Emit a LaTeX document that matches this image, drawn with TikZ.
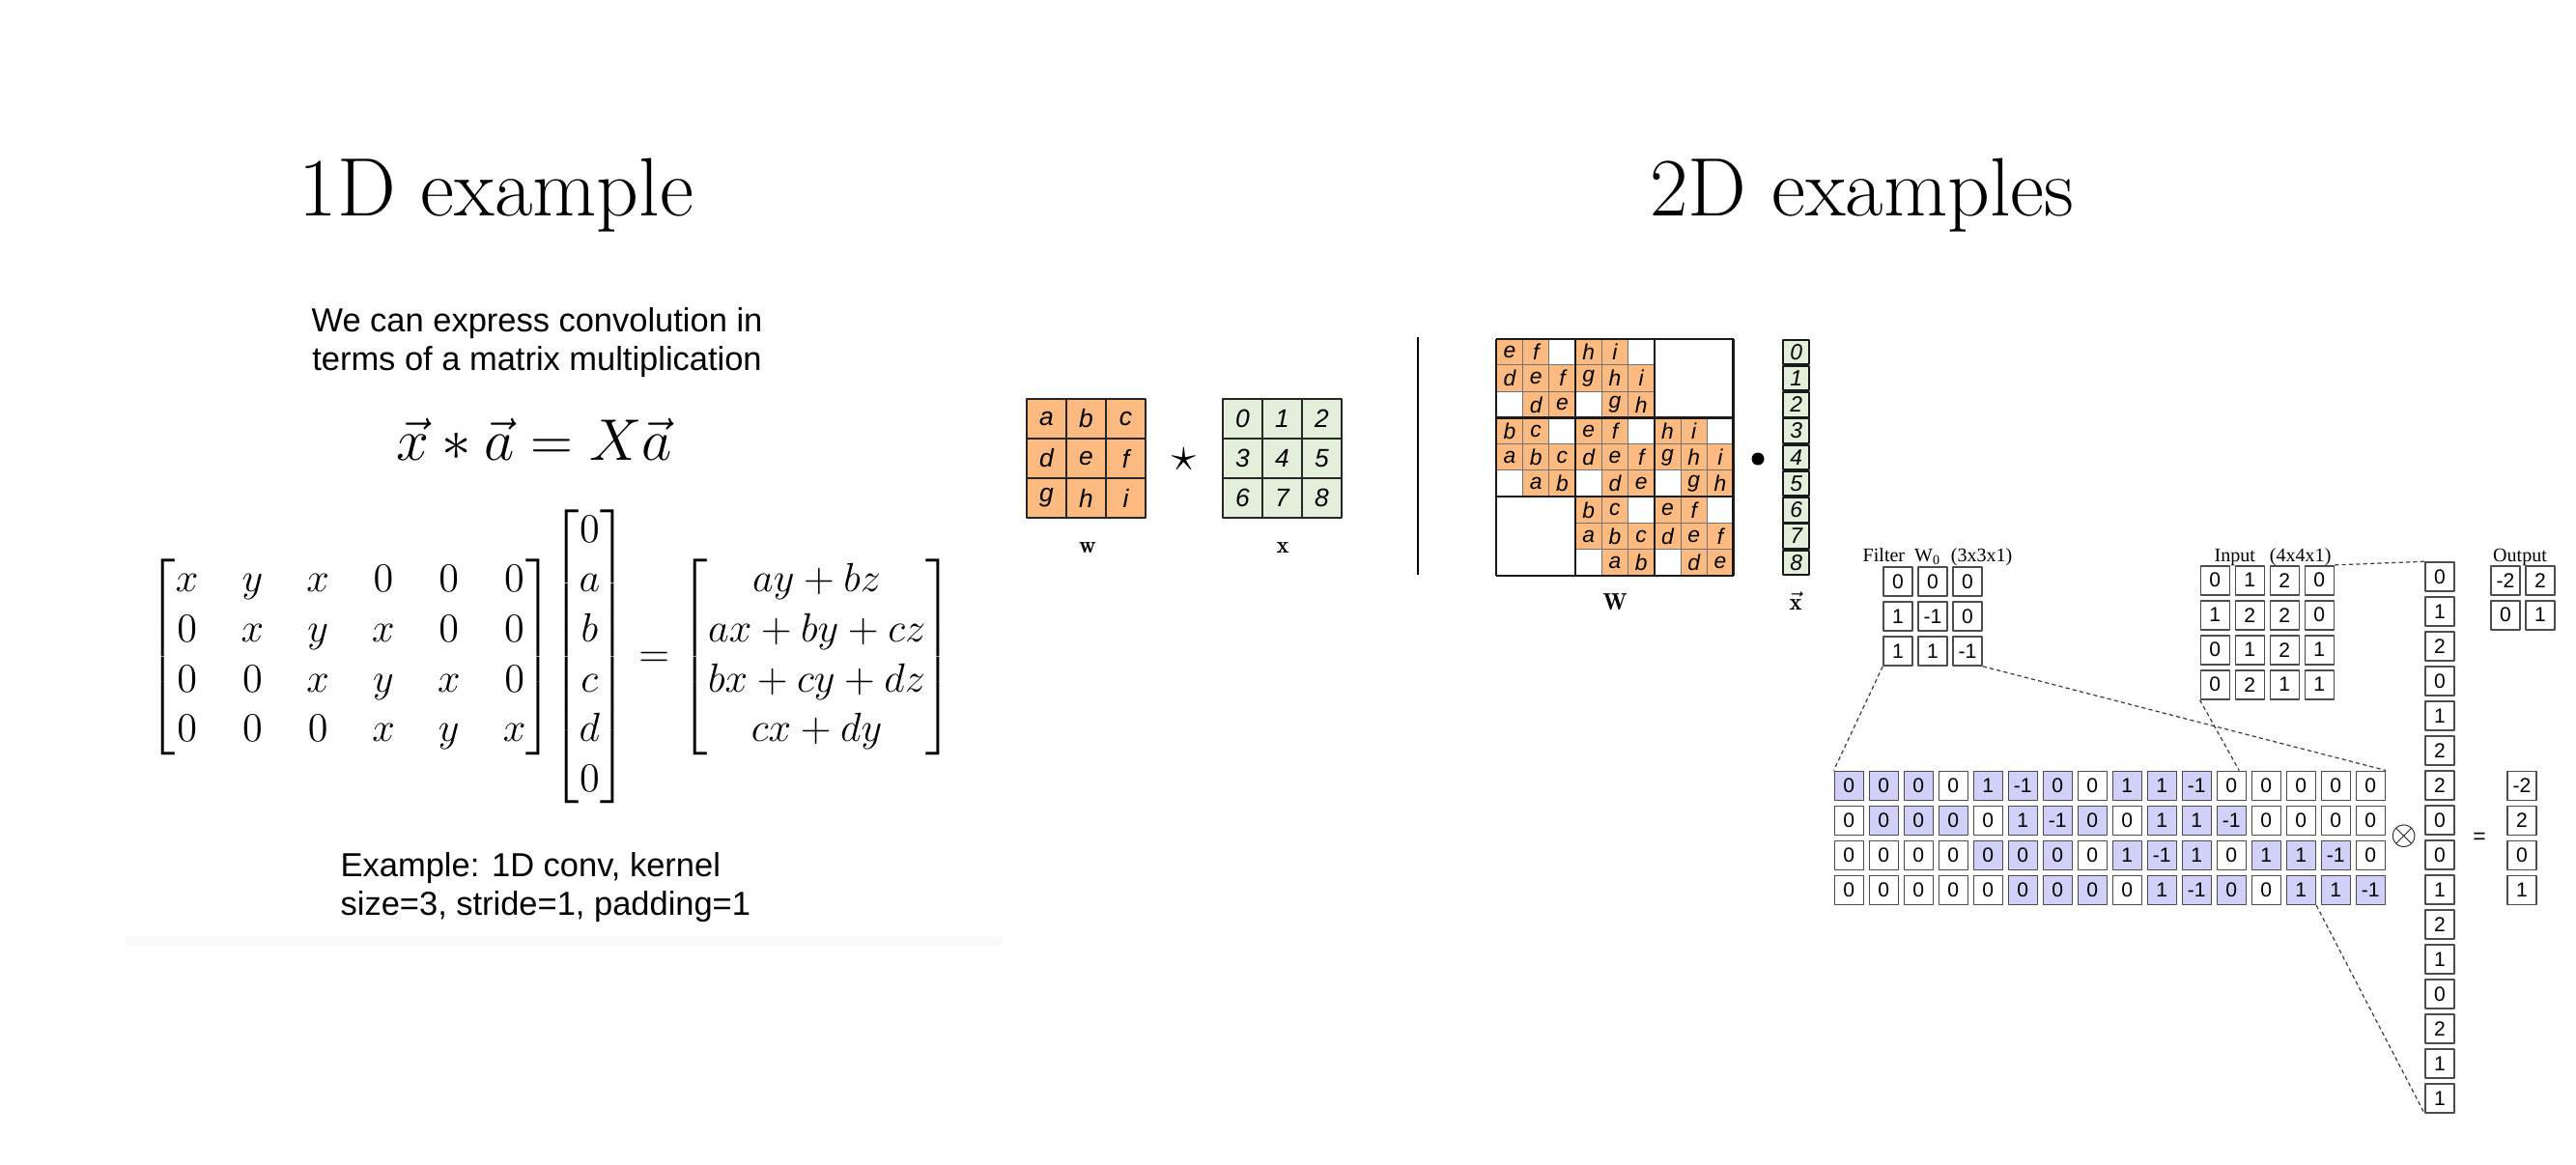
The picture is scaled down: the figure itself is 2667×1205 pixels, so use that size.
\documentclass[tikz,border=0pt]{standalone}
\usepackage{amsmath}
\usepackage{fontspec}
\newfontfamily\arialfont{Liberation Sans}
\newfontfamily\timesfont{Liberation Serif}
\usetikzlibrary{calc}

\definecolor{wfill}{RGB}{252,186,128}
\definecolor{xfill}{RGB}{227,239,219}
\definecolor{lav}{RGB}{208,208,248}

\newcommand\kernltr[1]{\ifcase#1 a\or b\or c\or d\or e\or f\or g\or h\or i\fi}

\tikzset{
  wcell/.style={draw=black!85, line width=0.5pt, fill=wfill, minimum size=0.41cm, inner sep=0pt,
    font=\arialfont\itshape\fontsize{7.5}{9}\selectfont},
  xcell/.style={wcell, fill=xfill},
  Wcell/.style={draw=black!55, line width=0.3pt, fill=wfill, minimum size=0.2725cm, inner sep=0pt,
    font=\arialfont\itshape\fontsize{6.5}{8}\selectfont},
  vcell/.style={draw=black!90, line width=0.55pt, fill=xfill, minimum width=0.27cm, minimum height=0.255cm,
    inner sep=0pt, font=\arialfont\itshape\fontsize{6.5}{8}\selectfont},
  blockline/.style={black!90, line width=0.65pt},
  numbox/.style={draw=black!70, line width=0.45pt, fill=white, minimum size=0.3cm, inner sep=0pt,
    font=\arialfont\fontsize{6}{7}\selectfont},
  guide/.style={black!75, line width=0.35pt, dash pattern=on 1.2pt off 0.9pt},
  smalllabel/.style={inner sep=0pt, anchor=base, font=\timesfont\fontsize{5.7}{7}\selectfont},
  headline/.style={inner sep=0pt, anchor=base, font=\fontsize{24.4}{28}\selectfont},
  sanstext/.style={inner sep=0pt, font=\arialfont\fontsize{9.8}{11.4}\selectfont},
  veclabel/.style={inner sep=0pt, anchor=base, font=\fontsize{7}{8}\selectfont}
}

\begin{document}
\begin{tikzpicture}[x=0.01cm, y=-0.01cm, line join=round]
\useasboundingbox (0,0) rectangle (2667,1205);

% titles
\node[headline] (t1) at (514,223) {1D example};
\node[headline] (t2) at (1928,223) {2D examples};

% 1D example
\fill[black!2] (130,970) rectangle (1037,979);
\node[sanstext, align=center] (intro) at (556,355) {We can express convolution in\\terms of a matrix multiplication};
\node[inner sep=0pt, anchor=base, font=\fontsize{17.2}{20}\selectfont] (conv) at (553,476) {$\vec{x} * \vec{a} = X\vec{a}$};
\node[inner sep=0pt, font=\fontsize{12}{14.7}\selectfont] (eq1d) at (570,680) {\setlength{\arraycolsep}{6.3pt}%
  $\begin{bmatrix} x & y & x & 0 & 0 & 0\\ 0 & x & y & x & 0 & 0\\ 0 & 0 & x & y & x & 0\\ 0 & 0 & 0 & x & y & x\end{bmatrix}%
  \hspace{-2.3pt}\begin{bmatrix}0\\ a\\ b\\ c\\ d\\ 0\end{bmatrix}\hspace{0pt}=\hspace{0pt}%
  \begin{bmatrix}ay+bz\\ ax+by+cz\\ bx+cy+dz\\ cx+dy\end{bmatrix}$};
\node[sanstext, align=left, anchor=west] (note) at (352,919) {Example: 1D conv, kernel\\size=3, stride=1, padding=1};

% 2D example, kernel and image
\def\ws{41}
\foreach \r in {0,1,2} {
  \foreach \c in {0,1,2} {
    \pgfmathtruncatemacro\k{3*\r+\c}
    \node[wcell] (w-\r-\c) at ({1083.5+\ws*\c},{433.5+\ws*\r}) {\kernltr{\k}};
    \node[xcell] (x-\r-\c) at ({1286.5+\ws*\c},{433.5+\ws*\r}) {\k};
  }
}
\node[inner sep=0pt, font=\fontsize{15}{18}\selectfont] (star) at (1226,476) {$\star$};
\node[veclabel] (wlab) at (1126,572) {$\mathbf{w}$};
\node[veclabel] (xlab) at (1328,572) {$\mathbf{x}$};

\draw[line width=0.6pt] (1468,349) -- (1468,595);

% unrolled kernel matrix
\def\Wx{1549.3} \def\Wy{350.7} \def\Ws{27.25}
\foreach \R in {0,...,8} {
  \foreach \C in {0,...,8} {
    \pgfmathtruncatemacro\dI{floor(\C/3)-floor(\R/3)}
    \pgfmathtruncatemacro\dj{mod(\C,3)-mod(\R,3)}
    \pgfmathtruncatemacro\blk{abs(\dI)<2}
    \pgfmathtruncatemacro\cel{abs(\dj)<2}
    \pgfmathtruncatemacro\k{3*(\dI+1)+\dj+1}
    \ifnum\blk=1
      \ifnum\cel=1
        \node[Wcell] (W-\R-\C) at ({\Wx+\Ws*(\C+0.5)},{\Wy+\Ws*(\R+0.5)}) {\kernltr{\k}};
      \else
        \node[Wcell, fill=white] (W-\R-\C) at ({\Wx+\Ws*(\C+0.5)},{\Wy+\Ws*(\R+0.5)}) {};
      \fi
    \fi
  }
}
\foreach \t in {0,3,6,9} {
  \draw[blockline] ({\Wx+\t*\Ws},\Wy) -- ++(0,{9*\Ws});
  \draw[blockline] (\Wx,{\Wy+\t*\Ws}) -- ++({9*\Ws},0);
}
\foreach \k in {0,...,8}
  \node[vcell] (xv-\k) at (1859.7,{\Wy+\Ws*(\k+0.5)}) {\k};
\node[circle, fill=black, minimum size=0.13cm, inner sep=0pt] (dotop) at (1820,475) {};
\node[veclabel] (Wlab) at (1672,631) {$\mathbf{W}$};
\node[veclabel] (xvlab) at (1859,631) {$\vec{\mathbf{x}}$};

% filter, input, output
\node[smalllabel] (flab) at (2006,581) {Filter~~W\textsubscript{0}~~(3x3x1)};
\node[smalllabel] (ilab) at (2353,581) {Input~~~(4x4x1)};
\node[smalllabel] (olab) at (2609,581) {Output};
\foreach \vals [count=\r from 0] in {{0,0,0},{1,-1,0},{1,1,-1}}
  \foreach \v [count=\c from 0] in \vals
    \node[numbox] (f-\r-\c) at ({1965+36*\c},{602+36*\r}) {\v};
\foreach \vals [count=\r from 0] in {{0,1,2,0},{1,2,2,0},{0,1,2,1},{0,2,1,1}}
  \foreach \v [count=\c from 0] in \vals
    \node[numbox] (in-\r-\c) at ({2293.3+36*\c},{600.7+36*\r}) {\v};
\foreach \vals [count=\r from 0] in {{-2,2},{0,1}}
  \foreach \v [count=\c from 0] in \vals
    \node[numbox] (out-\r-\c) at ({2594+36*\c},{600.7+36*\r}) {\v};
\foreach \v [count=\k from 0] in {0,1,2,0,1,2,2,0,0,1,2,1,0,2,1,1}
  \node[numbox] (v-\k) at (2526,{597+36*\k}) {\v};

% sparse matrix rows
\foreach \vals [count=\r from 0] in {{0,0,0,0,1,-1,0,0,1,1,-1,0,0,0,0,0},
    {0,0,0,0,0,1,-1,0,0,1,1,-1,0,0,0,0},
    {0,0,0,0,0,0,0,0,1,-1,1,0,1,1,-1,0},
    {0,0,0,0,0,0,0,0,0,1,-1,0,0,1,1,-1}} {
  \pgfmathtruncatemacro\s{{0,1,4,5}[\r]}
  \foreach \v [count=\c from 0] in \vals {
    \pgfmathtruncatemacro\sh{and(\c>=\s,and(\c<\s+11,mod(\c-\s,4)<3))}
    \ifnum\sh=1 \def\bg{lav}\else\def\bg{white}\fi
    \node[numbox, fill=\bg] (m-\r-\c) at ({1914.3+36*\c},{813.3+36*\r}) {\v};
  }
}
\node[inner sep=0pt, font=\fontsize{10}{12}\selectfont] (otimes) at (2489,866) {$\otimes$};
\node[inner sep=0pt, font=\arialfont\fontsize{6.5}{8}\selectfont] (eqs) at (2567,868) {=};
\foreach \v [count=\k from 0] in {-2,2,0,1}
  \node[numbox] (res-\k) at (2611,{813.3+36*\k}) {\v};

% guide lines
\draw[guide] (f-2-0.south west) -- (m-0-0.north west);
\draw[guide] (f-2-2.south east) -- (m-0-15.north east);
\draw[guide] (in-3-0.south west) -- ($(m-0-11.north)!0.5!(m-0-11.north east)$);
\draw[guide] (in-0-3.north east) -- (v-0.north west);
\draw[guide] (m-3-13.south east) -- (v-15.south west);
\end{tikzpicture}
\end{document}
